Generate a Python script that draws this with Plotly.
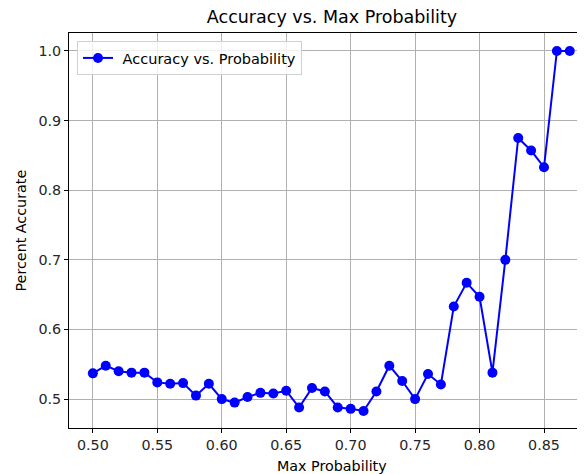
import plotly.graph_objects as go

max_prob = [0.50, 0.51, 0.52, 0.53, 0.54, 0.55, 0.56, 0.57, 0.58, 0.59,
            0.60, 0.61, 0.62, 0.63, 0.64, 0.65, 0.66, 0.67, 0.68, 0.69,
            0.70, 0.71, 0.72, 0.73, 0.74, 0.75, 0.76, 0.77, 0.78, 0.79,
            0.80, 0.81, 0.82, 0.83, 0.84, 0.85, 0.86, 0.87]
accuracy = [0.537, 0.548, 0.540, 0.538, 0.538, 0.524, 0.522, 0.523, 0.505, 0.522,
            0.500, 0.495, 0.503, 0.509, 0.508, 0.512, 0.488, 0.516, 0.511, 0.488,
            0.486, 0.483, 0.511, 0.548, 0.526, 0.500, 0.536, 0.521, 0.633, 0.667,
            0.647, 0.538, 0.700, 0.875, 0.857, 0.833, 1.000, 1.000]
x_ticks = [0.50, 0.55, 0.60, 0.65, 0.70, 0.75, 0.80, 0.85]
y_ticks = [0.5, 0.6, 0.7, 0.8, 0.9, 1.0]
series_name = "Accuracy vs. Probability"

font_family = "DejaVu Sans"
# page body has an 8px margin, so figure coords = screen coords - 8
W, H = 577, 466
L, T, PW, PH = 61, 25, 516, 395

fig = go.Figure()
fig.add_trace(go.Scatter(
    x=max_prob, y=accuracy, mode="lines+markers",
    name="\u00a0" + series_name,
    line=dict(color="#0000ff", width=2),
    marker=dict(color="#0000ff", size=10),
))

fig.update_layout(
    template="none",
    width=W, height=H,
    margin=dict(l=L, r=W - L - PW, t=T, b=H - T - PH, autoexpand=False),
    paper_bgcolor="white", plot_bgcolor="white",
    font=dict(family=font_family, size=14, color="#262626"),
    title=dict(text="Accuracy vs. Max Probability", x=(332 - 8) / W, xanchor="center",
               xref="container", yref="container",
               y=1 - 9 / H, yanchor="middle",
               font=dict(family=font_family, size=17.5, color="black")),
    showlegend=True,
    legend=dict(x=8 / PW, y=1 - 8 / PH, xanchor="left", yanchor="top",
                bgcolor="rgba(255,255,255,0.8)", bordercolor="#d0d0d0", borderwidth=1,
                font=dict(family=font_family, size=14.5, color="black"),
                itemwidth=30),
    xaxis=dict(
        automargin=False,
        range=[0.4815, 0.4815 + PW / 1289], tickvals=x_ticks,
        ticktext=[f"{v:.2f}" for v in x_ticks],
        showgrid=True, gridcolor="#b0b0b0", gridwidth=0.8, zeroline=False,
        showline=True, linecolor="black", linewidth=1, mirror=True,
        ticks="outside", ticklen=4, tickcolor="black", tickwidth=1,
        tickfont=dict(family=font_family, size=14.3, color="#262626"),
    ),
    yaxis=dict(
        automargin=False,
        range=[0.4585, 1.0258], tickvals=y_ticks,
        ticktext=[f"{v:.1f}" for v in y_ticks],
        showgrid=True, gridcolor="#b0b0b0", gridwidth=0.8, zeroline=False,
        showline=True, linecolor="black", linewidth=1,
        ticks="outside", ticklen=4, tickcolor="black", tickwidth=1,
        tickfont=dict(family=font_family, size=14.3, color="#262626"),
    ),
    annotations=[
        dict(text="Max Probability", xref="paper", yref="paper",
             x=(332 - 69) / PW, y=-(466 - 428) / PH, xanchor="center", yanchor="middle",
             showarrow=False, font=dict(family=font_family, size=14.3, color="black")),
        dict(text="Percent Accurate", xref="paper", yref="paper", textangle=-90,
             x=-(69 - 20) / PW, y=0.5, xanchor="center", yanchor="middle",
             showarrow=False, font=dict(family=font_family, size=14.3, color="black")),
    ],
)

fig.write_html("out.html")
